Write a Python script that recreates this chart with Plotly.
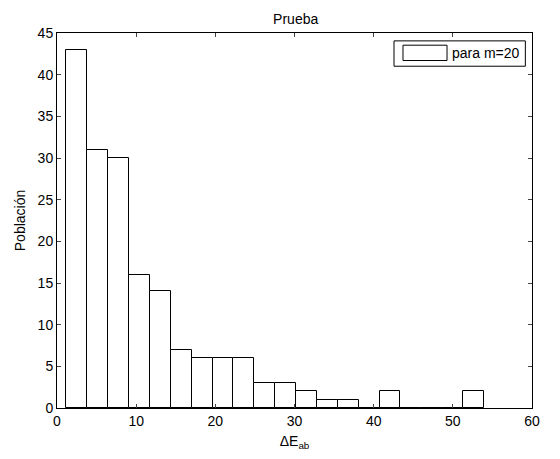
import numpy as np
import plotly.graph_objects as go

# Histogram data (20 bins, "m=20")
bin_lo = 1.19
bin_hi = 53.93
counts = [43, 31, 30, 16, 14, 7, 6, 6, 6, 3, 3, 2, 1, 1, 0, 2, 0, 0, 0, 2]
title_text = "Prueba"
x_label = "ΔE<sub>ab</sub>"
y_label = "Población"
legend_label = "para m=20"
x_ticks = [0, 10, 20, 30, 40, 50, 60]
y_ticks = [0, 5, 10, 15, 20, 25, 30, 35, 40, 45]

edges = np.linspace(bin_lo, bin_hi, len(counts) + 1)
centers = (edges[:-1] + edges[1:]) / 2
width = edges[1] - edges[0]

FONT = "Liberation Sans, Arial, sans-serif"
FS = 14

fig = go.Figure()
fig.add_trace(go.Bar(
    x=centers, y=counts, width=width,
    marker=dict(color="white", line=dict(color="black", width=1)),
    showlegend=False, name=legend_label,
))

axis_common = dict(
    showline=True, linecolor="black", linewidth=1, mirror="ticks",
    ticks="inside", ticklen=4, tickcolor="#444", tickwidth=1,
    showgrid=False, zeroline=False,
    tickfont=dict(family=FONT, size=FS, color="black"),
)

fig.update_layout(
    width=560, height=459,
    margin=dict(l=57, r=28, t=33, b=51),
    paper_bgcolor="white", plot_bgcolor="white",
    font=dict(family=FONT, size=FS, color="black"),
    title=dict(text=title_text, x=0.528, xanchor="center", y=0.959, yanchor="middle",
               font=dict(family=FONT, size=FS, color="black")),
    xaxis=dict(range=[0, 60], tickvals=x_ticks, **axis_common,
               title=dict(text=x_label, font=dict(family=FONT, size=FS), standoff=8)),
    yaxis=dict(range=[0, 45], tickvals=y_ticks, **axis_common,
               title=dict(text=y_label, font=dict(family=FONT, size=FS), standoff=8)),
    bargap=0,
)

# Legend box drawn in MATLAB style
fig.add_shape(type="rect", xref="paper", yref="paper", x0=0.7095, x1=0.986, y0=0.9114, y1=0.979,
              line=dict(color="black", width=1), fillcolor="white")
fig.add_shape(type="rect", xref="paper", yref="paper", x0=0.7284, x1=0.8211, y0=0.9266, y1=0.9675,
              line=dict(color="black", width=1), fillcolor="white")
fig.add_annotation(text=legend_label, xref="paper", yref="paper", x=0.8270, y=0.9466,
                   xanchor="left", yanchor="middle", showarrow=False,
                   font=dict(family=FONT, size=FS, color="black"))

fig.write_html("out.html")
